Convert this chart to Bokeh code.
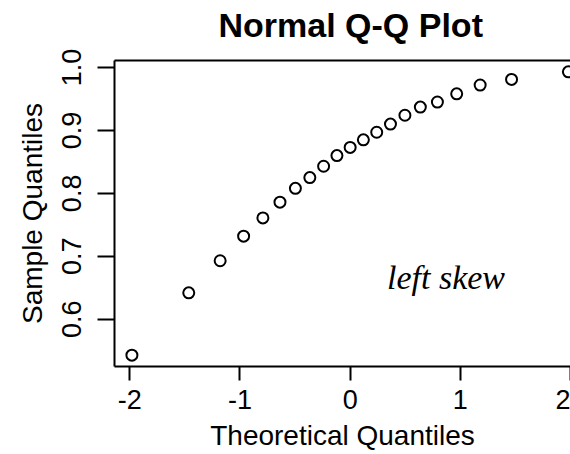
from bokeh.plotting import figure
from bokeh.models import Range1d, FixedTicker, LinearAxis, Label, Title
from bokeh.embed import file_html
from bokeh.resources import INLINE

# Theoretical quantiles (n = 21) and sample quantiles
theoretical = [-1.981, -1.465, -1.180, -0.967, -0.792, -0.637, -0.497, -0.366, -0.241, -0.120,
               0.000, 0.120, 0.241, 0.366, 0.497, 0.637, 0.792, 0.967, 1.180, 1.465, 1.981]
sample = [0.543, 0.642, 0.693, 0.732, 0.761, 0.786, 0.808, 0.825, 0.843, 0.860,
          0.873, 0.885, 0.897, 0.910, 0.924, 0.937, 0.945, 0.958, 0.972, 0.981, 0.993]

x_ticks = [-2, -1, 0, 1, 2]
x_tick_labels = ["-2", "-1", "0", "1", "2"]
y_ticks = [0.6, 0.7, 0.8, 0.9, 1.0]
y_tick_labels = ["0.6", "0.7", "0.8", "0.9", "1.0"]

FONT = "Liberation Sans"

p = figure(width=570, height=454, output_backend="svg", toolbar_location=None,
           x_range=Range1d(-2.139, 2.0), y_range=Range1d(0.525, 1.011),
           min_border_left=114, min_border_right=0, min_border_top=60, min_border_bottom=88,
           x_axis_label="Theoretical Quantiles", y_axis_label="Sample Quantiles")
p.background_fill_color = "white"
p.border_fill_color = "white"
p.outline_line_color = None
p.grid.visible = False

p.title = Title(text="Normal Q-Q Plot", align="left", offset=104,
                text_font=FONT, text_font_size="34px", text_font_style="bold",
                text_color="black", standoff=5)

for ax in [p.xaxis[0], p.yaxis[0]]:
    ax.axis_line_width = 2
    ax.axis_line_color = "black"
    ax.major_tick_line_width = 2
    ax.major_tick_line_color = "black"
    ax.major_tick_in = 0
    ax.minor_tick_out = 0
    ax.minor_tick_in = 0
    ax.major_label_text_font = FONT
    ax.major_label_text_font_size = "27px"
    ax.major_label_text_color = "black"
    ax.axis_label_text_font = FONT
    ax.axis_label_text_font_size = "28px"
    ax.axis_label_text_font_style = "normal"
    ax.axis_label_text_color = "black"

p.xaxis[0].ticker = FixedTicker(ticks=x_ticks)
p.xaxis[0].major_label_overrides = dict(zip(x_ticks, x_tick_labels))
p.xaxis[0].major_tick_out = 14
p.xaxis[0].major_label_standoff = 9
p.xaxis[0].axis_label_standoff = 8

p.yaxis[0].ticker = FixedTicker(ticks=y_ticks)
p.yaxis[0].major_label_overrides = dict(zip(y_ticks, y_tick_labels))
p.yaxis[0].major_label_orientation = "vertical"
p.yaxis[0].major_tick_out = 17
p.yaxis[0].major_label_standoff = 16
p.yaxis[0].axis_label_standoff = 12

# top border line of the box; an invisible blank axis label reserves the gap under the title
top = LinearAxis(ticker=FixedTicker(ticks=[]), major_label_text_font_size="0px",
                 major_tick_out=0, major_tick_in=0, minor_tick_out=0, minor_tick_in=0,
                 axis_line_width=2, axis_line_color="black",
                 axis_label="\u00a0", axis_label_text_font_size="10px",
                 axis_label_standoff=0)
p.add_layout(top, "above")

p.scatter(theoretical, sample, marker="circle", size=11, fill_color=None,
          line_color="black", line_width=2)

p.add_layout(Label(x=0.87, y=0.666, text="left skew", text_font="Liberation Serif",
                   text_font_style="italic", text_font_size="34px", text_align="center",
                   text_baseline="alphabetic", text_color="black"))

open("out.html", "w").write(file_html(p, INLINE))
